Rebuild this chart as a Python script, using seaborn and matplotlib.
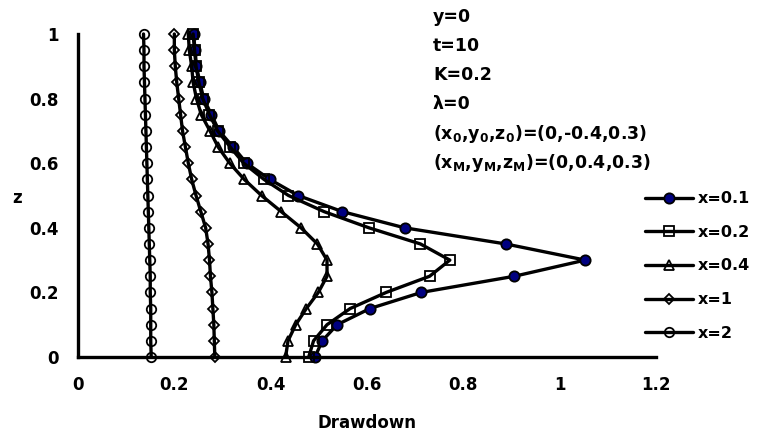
import matplotlib
matplotlib.use("Agg")
import matplotlib.pyplot as plt
import seaborn as sns
import pandas as pd

# Depth levels (z) shared by all profiles
z_levels = [0.00, 0.05, 0.10, 0.15, 0.20, 0.25, 0.30, 0.35, 0.40, 0.45, 0.50,
            0.55, 0.60, 0.65, 0.70, 0.75, 0.80, 0.85, 0.90, 0.95, 1.00]

# Drawdown profiles at each distance x
dd_x01 = [0.492, 0.507, 0.538, 0.606, 0.713, 0.906, 1.053, 0.888, 0.678, 0.549, 0.457,
          0.398, 0.350, 0.322, 0.293, 0.277, 0.261, 0.253, 0.246, 0.243, 0.240]
dd_x02 = [0.479, 0.489, 0.517, 0.565, 0.640, 0.730, 0.772, 0.711, 0.604, 0.511, 0.437,
          0.386, 0.344, 0.316, 0.290, 0.273, 0.259, 0.251, 0.245, 0.242, 0.239]
dd_x04 = [0.431, 0.436, 0.452, 0.474, 0.499, 0.517, 0.517, 0.497, 0.463, 0.422, 0.381,
          0.345, 0.315, 0.291, 0.274, 0.256, 0.246, 0.239, 0.236, 0.231, 0.229]
dd_x1 = [0.284, 0.283, 0.282, 0.280, 0.278, 0.275, 0.273, 0.270, 0.265, 0.255, 0.245,
         0.236, 0.229, 0.223, 0.217, 0.213, 0.209, 0.205, 0.202, 0.200, 0.200]
dd_x2 = [0.152, 0.151, 0.151, 0.151, 0.150, 0.150, 0.149, 0.148, 0.147, 0.146, 0.145,
         0.144, 0.143, 0.142, 0.141, 0.140, 0.139, 0.138, 0.137, 0.137, 0.136]

series_labels = ["x=0.1", "x=0.2", "x=0.4", "x=1", "x=2"]
x_ticks = [0, 0.2, 0.4, 0.6, 0.8, 1.0, 1.2]
x_tick_labels = ["0", "0.2", "0.4", "0.6", "0.8", "1", "1.2"]
y_ticks = [0, 0.2, 0.4, 0.6, 0.8, 1.0]
y_tick_labels = ["0", "0.2", "0.4", "0.6", "0.8", "1"]

params_text = ["y=0", "t=10", "K=0.2", "λ=0",
               r"(x$_\mathbf{0}$,y$_\mathbf{0}$,z$_\mathbf{0}$)=(0,-0.4,0.3)",
               r"(x$_\mathbf{M}$,y$_\mathbf{M}$,z$_\mathbf{M}$)=(0,0.4,0.3)"]

sns.set_style("white")
plt.rcParams["font.family"] = ["DejaVu Sans"]
plt.rcParams["mathtext.fontset"] = "dejavusans"
plt.rcParams["font.weight"] = "bold"
for key in ["text.color", "axes.labelcolor", "xtick.color", "ytick.color",
            "axes.edgecolor"]:
    plt.rcParams[key] = "black"

frames = []
for lab, vals in zip(series_labels, [dd_x01, dd_x02, dd_x04, dd_x1, dd_x2]):
    frames.append(pd.DataFrame({"Drawdown": vals, "z": z_levels, "series": lab}))
df = pd.concat(frames, ignore_index=True)

styles = {
    "x=0.1": dict(marker="o", markersize=7.4, markerfacecolor="#000080"),
    "x=0.2": dict(marker="s", markersize=6.6, markerfacecolor="none"),
    "x=0.4": dict(marker="^", markersize=6.8, markerfacecolor="none"),
    "x=1": dict(marker="D", markersize=5.2, markerfacecolor="none"),
    "x=2": dict(marker="o", markersize=6.8, markerfacecolor="none"),
}

fig = plt.figure(figsize=(7.59, 4.41), dpi=100)
ax = fig.add_axes([78 / 759, 1 - 357 / 441, (656 - 78) / 759, (357 - 34) / 441])

for lab in series_labels:
    sub = df[df["series"] == lab]
    sns.lineplot(data=sub, x="Drawdown", y="z", ax=ax, sort=False, estimator=None,
                 color="black", linewidth=2.4, markeredgecolor="black",
                 markeredgewidth=1.3, clip_on=False, label=lab, **styles[lab])

ax.set_xlim(0, 1.2)
ax.set_ylim(0, 1)
ax.set_xticks(x_ticks)
ax.set_xticklabels(x_tick_labels)
ax.set_yticks(y_ticks)
ax.set_yticklabels(y_tick_labels)
ax.tick_params(axis="both", direction="out", length=6, width=2.2, labelsize=12,
               pad=8, colors="black")
for t in ax.get_xticklabels() + ax.get_yticklabels():
    t.set_fontweight("bold")
for side in ["top", "right"]:
    ax.spines[side].set_visible(False)
for side in ["left", "bottom"]:
    ax.spines[side].set_linewidth(2.4)
    ax.spines[side].set_color("black")

ax.set_xlabel("")
ax.set_ylabel("")
fig.text(367 / 759, 1 - 423 / 441, "Drawdown", ha="center", va="center",
         fontsize=12, fontweight="bold", color="black")
fig.text(17 / 759, 1 - 198 / 441, "z", ha="center", va="center",
         fontsize=12, fontweight="bold", color="black")

y_rows = [17, 46, 75, 104, 134, 163]
for txt, yp in zip(params_text, y_rows):
    fig.text(433 / 759, 1 - yp / 441, txt, ha="left", va="center",
             fontsize=12.5, fontweight="bold", color="black")

leg = ax.legend(loc="center left", bbox_to_anchor=(645 / 759, 1 - 266 / 441),
                bbox_transform=fig.transFigure, frameon=False,
                handlelength=3.0, handletextpad=0.3, labelspacing=1.17,
                borderaxespad=0, borderpad=0, prop={"weight": "bold", "size": 11.5})
for t in leg.get_texts():
    t.set_color("black")

fig.savefig("out.png", dpi=100)
